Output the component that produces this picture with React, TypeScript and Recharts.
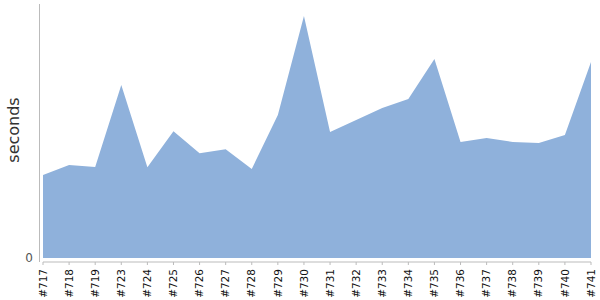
import { AreaChart, Area, XAxis, YAxis } from "recharts";

// build numbers along the x axis (note the gap after #719)
const builds = [
  "#717", "#718", "#719", "#723", "#724", "#725", "#726", "#727", "#728", "#729", "#730",
  "#731", "#732", "#733", "#734", "#735", "#736", "#737", "#738", "#739", "#740", "#741",
];

// duration per build (relative units)
const seconds = [
  83, 93, 91, 173, 90.7, 126.7, 104.7, 108.7, 89, 143, 242,
  126, 138, 150, 159, 199, 116, 120, 116, 115, 123, 196,
];

const yTicks = [0];

const data = builds.map((build, i) => ({ build, seconds: seconds[i] }));

const BuildTick = (props: any) => {
  const { x, y, payload } = props;
  return (
    <text
      x={x}
      y={y}
      transform={`rotate(-90, ${x}, ${y})`}
      textAnchor="end"
      dy="0.35em"
      fontSize={10.5}
      fill="#111"
      fontFamily="DejaVu Sans, sans-serif"
    >
      {payload.value}
    </text>
  );
};

const SecondsLabel = () => (
  <text
    x={18.5}
    y={130}
    transform="rotate(-90, 18.5, 130)"
    textAnchor="middle"
    fontSize={16}
    fill="#333"
    fontFamily="DejaVu Sans, sans-serif"
  >
    seconds
  </text>
);

export default function App() {
  return (
    <div style={{ position: "absolute", left: 0, top: 0, width: 600, height: 300 }}>
      <style>{`.recharts-yAxis .recharts-cartesian-axis-line { transform: translate(-3.5px, 0); }`}</style>
      <AreaChart width={600} height={300} data={data} margin={{ top: 4, right: 9, left: 0, bottom: 0 }}>
        <XAxis
          dataKey="build"
          interval={0}
          height={38}
          stroke="#bbb"
          tickSize={3}
          tickMargin={4}
          tick={<BuildTick />}
        />
        <YAxis
          width={43}
          domain={[-4, 254]}
          ticks={yTicks}
          tickLine={false}
          tickMargin={4}
          stroke="#bbb"
          tick={{ fill: "#555", fontSize: 12, fontFamily: "DejaVu Sans, sans-serif" }}
          label={<SecondsLabel />}
        />
        <Area
          type="linear"
          dataKey="seconds"
          stroke="none"
          fill="#8fb1db"
          fillOpacity={1}
          isAnimationActive={false}
        />
      </AreaChart>
    </div>
  );
}
